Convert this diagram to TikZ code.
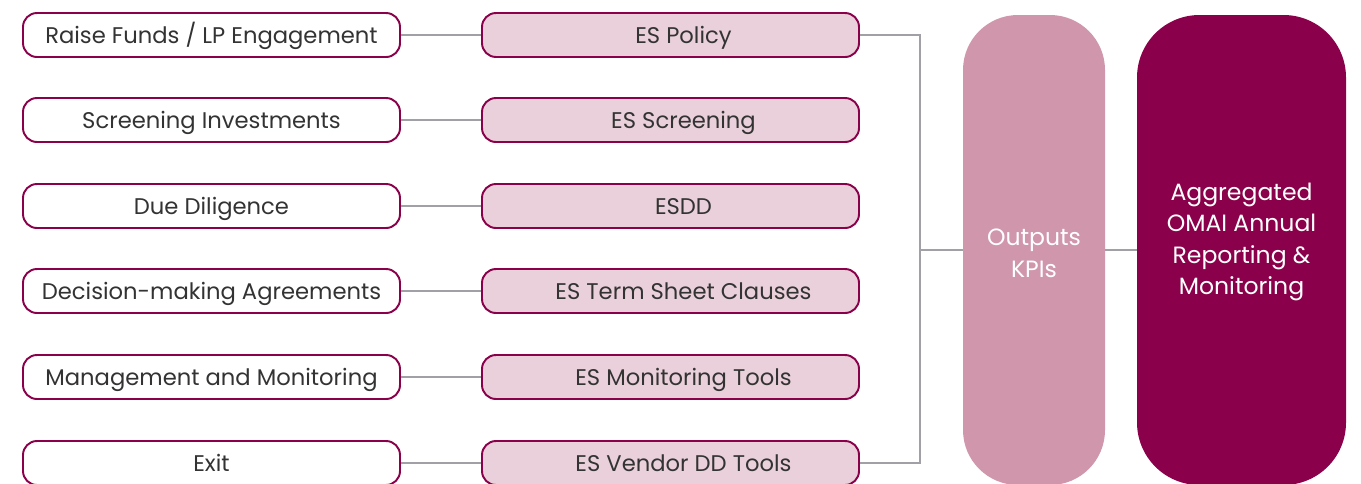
\documentclass[tikz,border=0pt]{standalone}
\usepackage{fontspec}
\setmainfont{Poppins}
\definecolor{wine}{RGB}{139,0,74}
\definecolor{palewine}{RGB}{233,208,218}
\definecolor{rosewine}{RGB}{207,150,172}
\definecolor{linkgray}{RGB}{160,160,166}
\definecolor{textgray}{RGB}{51,51,51}

\tikzset{
  stage/.style={draw=wine, line width=1.1pt, rounded corners=0.28cm, fill=white,
    minimum width=7.54cm, minimum height=0.88cm, inner sep=0pt,
    text height=1.2em, text depth=0.25em,
    text=textgray, font=\fontsize{12.9}{15}\selectfont},
  tool/.style={stage, fill=palewine, execute at begin node={\hspace*{0.52cm}}},
  column/.style={rounded corners=1.1cm, minimum height=9.4cm, inner sep=0pt},
  coltext/.style={text=white, align=center, inner sep=0pt,
    font=\fontsize{13.4}{18}\selectfont},
  link/.style={draw=linkgray, line width=1.1pt},
}

\begin{document}
\begin{tikzpicture}
    \useasboundingbox (0,0) rectangle (27.22,-9.66);

    % 投資プロセス
    \node[stage] (raise)   at (4.23,-0.70) {Raise Funds / LP Engagement};
    \node[stage] (screen)  at (4.23,-2.40) {Screening Investments};
    \node[stage] (dd)      at (4.23,-4.12) {Due Diligence};
    \node[stage] (decide)  at (4.23,-5.82) {Decision-making Agreements};
    \node[stage] (manage)  at (4.23,-7.54) {Management and Monitoring};
    \node[stage] (exit)    at (4.23,-9.26) {Exit};

    % ESツール
    \node[tool] (policy)   at (13.41,-0.70) {ES Policy};
    \node[tool] (esscreen) at (13.41,-2.40) {ES Screening};
    \node[tool] (esdd)     at (13.41,-4.12) {ESDD};
    \node[tool] (clauses)  at (13.41,-5.82) {ES Term Sheet Clauses};
    \node[tool] (montools) at (13.41,-7.54) {ES Monitoring Tools};
    \node[tool] (vendor)   at (13.41,-9.26) {ES Vendor DD Tools};

    \node[column, fill=rosewine, minimum width=2.84cm] (kpi) at (20.68,-5.00) {};
    \node[column, fill=wine, minimum width=4.18cm, rounded corners=1.25cm] (report) at (24.83,-5.00) {};
    \node[coltext] (kpitext) at ([yshift=-0.06cm]kpi.center) {Outputs\\KPIs};
    \node[coltext] (reporttext) at ([yshift=0.16cm]report.center)
        {Aggregated\\OMAI Annual\\Reporting \&\\Monitoring};

    \coordinate (hub) at (18.40,-5.00);

    \draw[link] (raise)  -- (policy);
    \draw[link] (screen) -- (esscreen);
    \draw[link] (dd)     -- (esdd);
    \draw[link] (decide) -- (clauses);
    \draw[link] (manage) -- (montools);
    \draw[link] (exit)   -- (vendor);

    \draw[link] (policy.east) -| (hub); %集約
    \draw[link] (vendor.east) -| (hub);
    \draw[link] (hub) -- (kpi);
    \draw[link] (kpi) -- (report);
\end{tikzpicture}
\end{document}
